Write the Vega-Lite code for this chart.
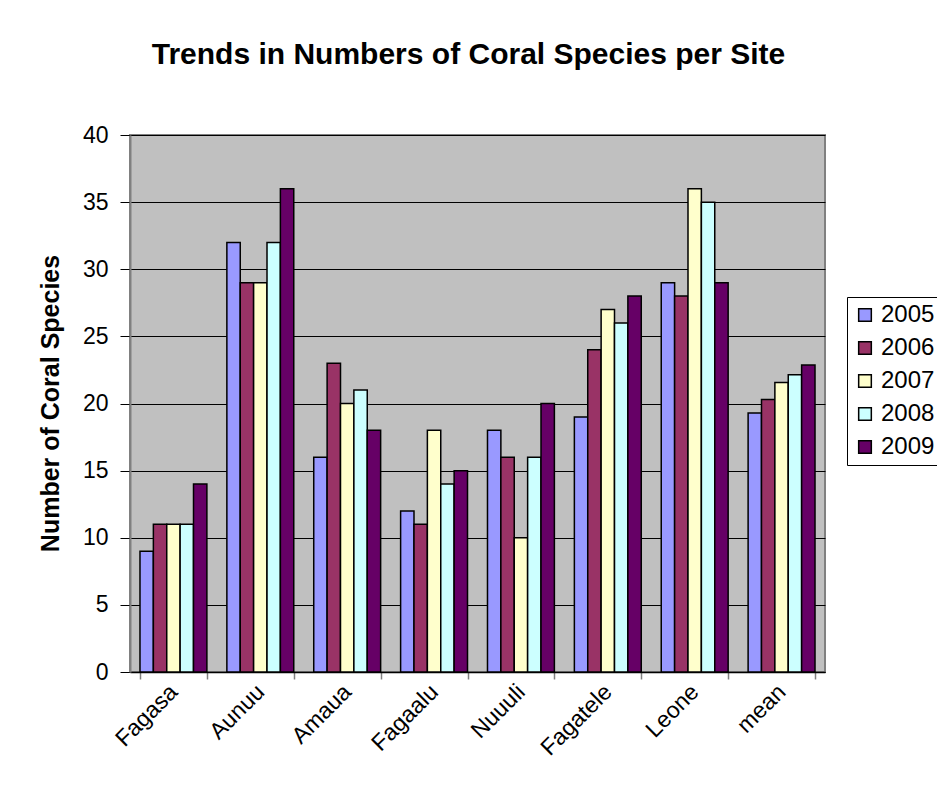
{
  "$schema": "https://vega.github.io/schema/vega-lite/v6.json",
  "autosize": {"type": "none"},
  "width": 695,
  "height": 537,
  "padding": {"left": 130, "top": 135, "right": 112, "bottom": 137},
  "background": "white",
  "title": {
    "text": "Trends in Numbers of Coral Species per Site",
    "font": "Liberation Sans",
    "fontSize": 30,
    "fontWeight": "bold",
    "color": "black",
    "anchor": "middle",
    "baseline": "alphabetic",
    "offset": 30,
    "dx": -9
  },
  "config": {
    "font": "Liberation Sans",
    "view": {"fill": "#C0C0C0", "stroke": "#808080", "strokeWidth": 2}
  },
  "data": {
    "values": [
      {"site": "Fagasa", "year": "2005", "species": 9},
      {"site": "Fagasa", "year": "2006", "species": 11},
      {"site": "Fagasa", "year": "2007", "species": 11},
      {"site": "Fagasa", "year": "2008", "species": 11},
      {"site": "Fagasa", "year": "2009", "species": 14},
      {"site": "Aunuu", "year": "2005", "species": 32},
      {"site": "Aunuu", "year": "2006", "species": 29},
      {"site": "Aunuu", "year": "2007", "species": 29},
      {"site": "Aunuu", "year": "2008", "species": 32},
      {"site": "Aunuu", "year": "2009", "species": 36},
      {"site": "Amaua", "year": "2005", "species": 16},
      {"site": "Amaua", "year": "2006", "species": 23},
      {"site": "Amaua", "year": "2007", "species": 20},
      {"site": "Amaua", "year": "2008", "species": 21},
      {"site": "Amaua", "year": "2009", "species": 18},
      {"site": "Fagaalu", "year": "2005", "species": 12},
      {"site": "Fagaalu", "year": "2006", "species": 11},
      {"site": "Fagaalu", "year": "2007", "species": 18},
      {"site": "Fagaalu", "year": "2008", "species": 14},
      {"site": "Fagaalu", "year": "2009", "species": 15},
      {"site": "Nuuuli", "year": "2005", "species": 18},
      {"site": "Nuuuli", "year": "2006", "species": 16},
      {"site": "Nuuuli", "year": "2007", "species": 10},
      {"site": "Nuuuli", "year": "2008", "species": 16},
      {"site": "Nuuuli", "year": "2009", "species": 20},
      {"site": "Fagatele", "year": "2005", "species": 19},
      {"site": "Fagatele", "year": "2006", "species": 24},
      {"site": "Fagatele", "year": "2007", "species": 27},
      {"site": "Fagatele", "year": "2008", "species": 26},
      {"site": "Fagatele", "year": "2009", "species": 28},
      {"site": "Leone", "year": "2005", "species": 29},
      {"site": "Leone", "year": "2006", "species": 28},
      {"site": "Leone", "year": "2007", "species": 36},
      {"site": "Leone", "year": "2008", "species": 35},
      {"site": "Leone", "year": "2009", "species": 29},
      {"site": "mean", "year": "2005", "species": 19.29},
      {"site": "mean", "year": "2006", "species": 20.29},
      {"site": "mean", "year": "2007", "species": 21.57},
      {"site": "mean", "year": "2008", "species": 22.14},
      {"site": "mean", "year": "2009", "species": 22.86}
    ]
  },
  "mark": {"type": "bar", "stroke": "black", "strokeWidth": 1.5, "strokeJoin": "miter"},
  "encoding": {
    "x": {
      "field": "site",
      "type": "nominal",
      "sort": null,
      "scale": {"paddingInner": 0.23, "paddingOuter": 0.115},
      "axis": {
        "title": null,
        "labelAngle": -45,
        "labelAlign": "right",
        "labelBaseline": "middle",
        "labelFontSize": 23,
        "labelColor": "black",
        "labelPadding": 9,
        "tickBand": "extent",
        "tickSize": 7,
        "tickColor": "#808080",
        "tickWidth": 1.5,
        "domainColor": "black",
        "domainWidth": 1.5
      }
    },
    "xOffset": {"field": "year", "type": "nominal", "scale": {"paddingInner": 0, "paddingOuter": 0}},
    "y": {
      "field": "species",
      "type": "quantitative",
      "scale": {"domain": [0, 40], "nice": false},
      "axis": {
        "title": "Number of Coral Species",
        "titleFontSize": 25,
        "titleFontWeight": "bold",
        "titleColor": "black",
        "titleAngle": -90,
        "titleX": -80,
        "titleY": 268,
        "titleAlign": "center",
        "titleBaseline": "middle",
        "values": [0, 5, 10, 15, 20, 25, 30, 35, 40],
        "labelFontSize": 23,
        "labelColor": "black",
        "labelPadding": 12,
        "tickSize": 10,
        "tickColor": "black",
        "tickWidth": 1,
        "domainColor": "#808080",
        "domainWidth": 2,
        "grid": true,
        "gridColor": "black",
        "gridWidth": 1
      }
    },
    "color": {
      "field": "year",
      "type": "nominal",
      "scale": {
        "domain": ["2005", "2006", "2007", "2008", "2009"],
        "range": ["#9999FF", "#993366", "#FFFFCC", "#CCFFFF", "#660066"]
      },
      "legend": {
        "title": null,
        "orient": "none",
        "legendX": 717,
        "legendY": 162,
        "fillColor": "white",
        "strokeColor": "black",
        "padding": 6,
        "symbolType": "square",
        "symbolSize": 160,
        "symbolStrokeColor": "black",
        "symbolStrokeWidth": 1.5,
        "symbolOpacity": 1,
        "labelFontSize": 24,
        "labelColor": "black",
        "labelOffset": 4,
        "rowPadding": 9
      }
    }
  }
}
